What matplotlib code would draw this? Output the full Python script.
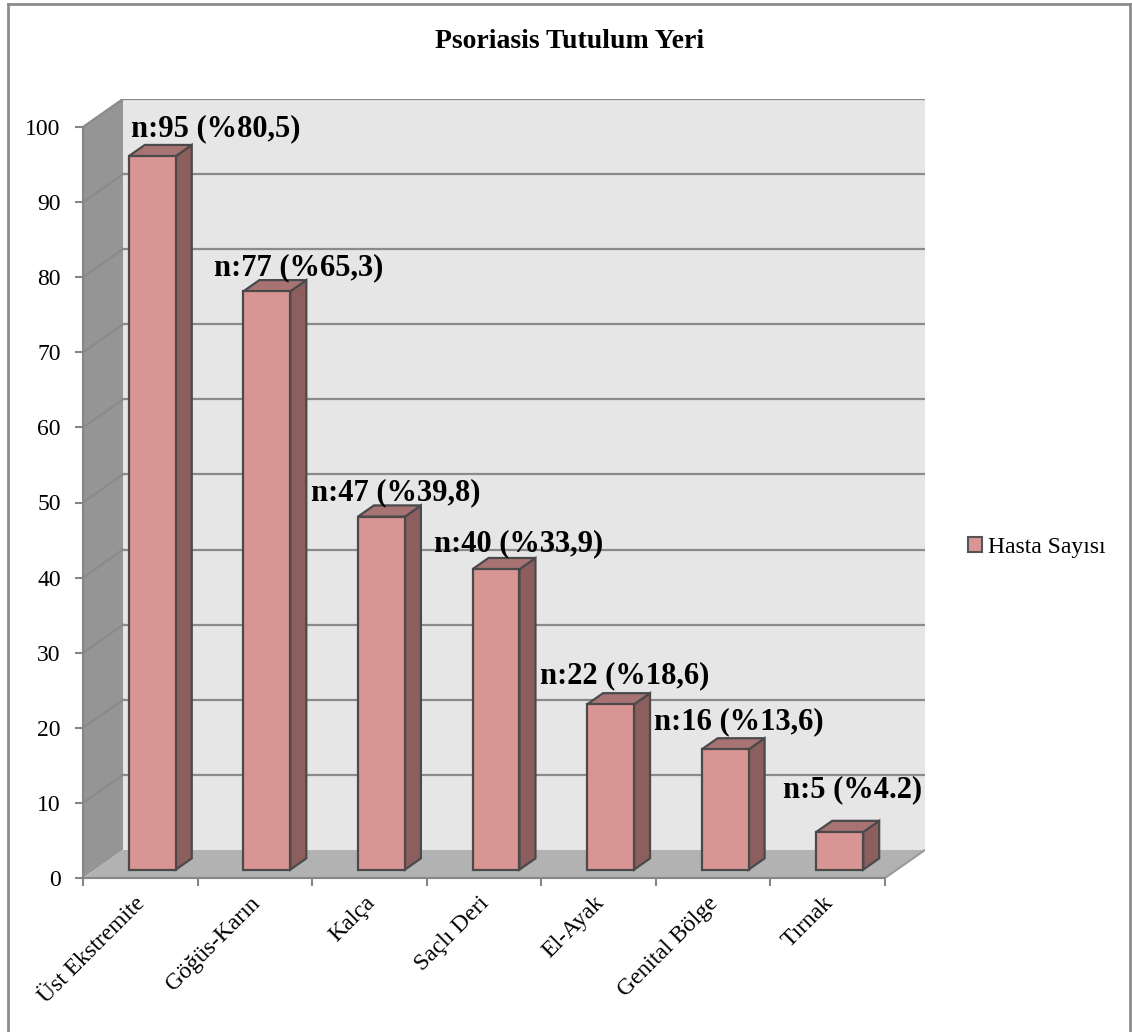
import numpy as np
from matplotlib import pyplot as plt
from matplotlib.patches import Polygon, Rectangle, Patch
from matplotlib.lines import Line2D

plt.rcParams['font.family'] = ['Liberation Serif', 'DejaVu Serif']

# Psoriasis involvement sites
categories = ['Üst Ekstremite', 'Göğüs-Karın', 'Kalça', 'Saçlı Deri',
              'El-Ayak', 'Genital Bölge', 'Tırnak']
counts = [95, 77, 47, 40, 22, 16, 5]
labels = ['n:95 (%80,5)', 'n:77 (%65,3)', 'n:47 (%39,8)', 'n:40 (%33,9)',
          'n:22 (%18,6)', 'n:16 (%13,6)', 'n:5 (%4.2)']
series_name = 'Hasta Sayısı'
title = 'Psoriasis Tutulum Yeri'
yticks = np.arange(0, 101, 10)

# pseudo-3D geometry (data units)
N = len(categories)
DX, DY = 0.349, 3.73       # depth of the chart box
BW = 0.41                  # bar width
F0, F1 = 0.30, 0.70        # bar front/back position within depth
YMAX = 100

c_front = '#d99594'
c_side = '#8c5f5e'
c_top = '#a87473'
c_edge = '#4a4a4a'
c_grid = '#8a8a8a'

# label offsets in pixels (text centre relative to bar front top centre)
lab_off = [(63, 27), (32, 24), (14, 24), (23, 25), (14, 29), (14, 28), (13, 42)]

fig = plt.figure(figsize=(11.32, 10.32), dpi=100)
W, H = 1132, 1032
ax = fig.add_axes([83/W, (H-878)/H, (N+DX)*114.57/W, (YMAX+DY)*7.51/H])
ax.set_xlim(0, N+DX)
ax.set_ylim(0, YMAX+DY)
ax.patch.set_visible(False)

# walls and floor
ax.add_patch(Polygon([(0, 0), (DX, DY), (DX, YMAX+DY), (0, YMAX)],
                     closed=True, fc='#959595', ec='none', zorder=0))
ax.add_patch(Rectangle((DX, DY), N, YMAX, fc='#e6e6e6', ec='none', zorder=0))
ax.add_patch(Polygon([(0, 0), (N, 0), (N+DX, DY), (DX, DY)],
                     closed=True, fc='#b2b2b2', ec='none', zorder=0))
ax.plot([N, N+DX], [0, DY], color='#9a9a9a', lw=1.5, zorder=1)

for v in yticks[1:]:
    ax.plot([DX, N+DX], [v+DY, v+DY], color=c_grid, lw=1.6, zorder=1)
    ax.plot([0, DX], [v, v+DY], color=c_grid, lw=1.6, zorder=1)

# bars
ddx, ddy = (F1-F0)*DX, (F1-F0)*DY
for i, v in enumerate(counts):
    x0 = i + (1-BW)/2 + F0*DX
    y0 = F0*DY
    ax.add_patch(Polygon([(x0+BW, y0), (x0+BW+ddx, y0+ddy),
                          (x0+BW+ddx, y0+v+ddy), (x0+BW, y0+v)],
                         closed=True, fc=c_side, ec=c_edge, lw=1.6, zorder=3))
    ax.add_patch(Polygon([(x0, y0+v), (x0+BW, y0+v),
                          (x0+BW+ddx, y0+v+ddy), (x0+ddx, y0+v+ddy)],
                         closed=True, fc=c_top, ec=c_edge, lw=1.6, zorder=3))
    ax.add_patch(Rectangle((x0, y0), BW, v, fc=c_front, ec=c_edge,
                           lw=1.6, zorder=4))
    ax.annotate(labels[i], xy=(x0+BW/2, y0+v), xytext=lab_off[i],
                textcoords='offset pixels', ha='center', va='center',
                fontsize=22, fontweight='bold', zorder=5)

# axes
for s in ['top', 'right']:
    ax.spines[s].set_visible(False)
ax.spines['left'].set_bounds(0, YMAX)
ax.spines['bottom'].set_bounds(0, N)
for s in ['left', 'bottom']:
    ax.spines[s].set_color('#868686')
    ax.spines[s].set_linewidth(1.5)
ax.set_yticks(yticks)
ax.tick_params(axis='y', length=6, width=1.5, color='#868686',
               labelsize=17, pad=10)
ax.set_xticks(np.arange(N+1))
ax.set_xticklabels([])
ax.tick_params(axis='x', length=6, width=1.5, color='#868686')
for i, c in enumerate(categories):
    ax.annotate(c, xy=(i+0.5, 0), xytext=(2, -22), textcoords='offset pixels',
                rotation=45, rotation_mode='anchor', ha='right', va='center',
                fontsize=17)

# title and legend
fig.text(570/W, 1-41/H, title, ha='center', va='center',
         fontsize=20, fontweight='bold')
fig.legend(handles=[Patch(fc=c_front, ec='#555555', lw=1.5, label=series_name)],
           loc='center left', bbox_to_anchor=(968/W, 1-547/H),
           frameon=False, fontsize=17, handlelength=0.6, handleheight=0.6,
           handletextpad=0.25, borderpad=0, borderaxespad=0)

# chart area border
for xs, ys in [([8, 8], [4, H]), ([8, 1130], [4, 4]), ([1130, 1130], [4, H])]:
    fig.add_artist(Line2D([x/W for x in xs], [1-y/H for y in ys],
                          color='#8c8c8c', lw=2))

plt.savefig('out.png', dpi=100)
